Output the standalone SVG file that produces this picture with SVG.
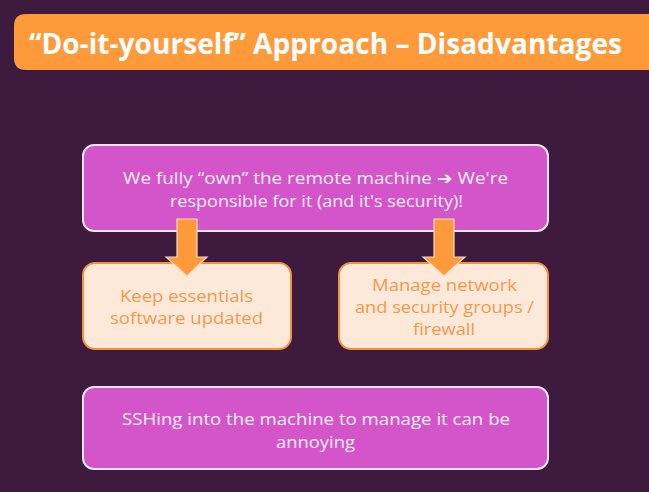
<svg xmlns="http://www.w3.org/2000/svg" width="649" height="492" viewBox="0 0 649 492">
<style>
.bg{fill:#3d1a3e}
.mag{fill:#d455c9;stroke:#f3e6f1;stroke-width:2}
.peach{fill:#fde9da;stroke:#f3923a;stroke-width:2}
.wt{font-family:"Open Sans","Liberation Sans",sans-serif;font-size:17px;fill:#fbeefa;text-anchor:middle}
.ot{font-family:"Open Sans","Liberation Sans",sans-serif;font-size:16.5px;fill:#f3994d;text-anchor:middle}
.arr{fill:#ff9a3b;stroke:#f8dcc4;stroke-width:1.2}
.title{font-family:"Open Sans","Liberation Sans",sans-serif;font-weight:bold;font-size:28px;fill:#ffffff}
</style>
<rect class="bg" x="0" y="0" width="649" height="492"/>
<g id="title">
<path d="M26 14 H660 V70 H26 Q14 70 14 58 V26 Q14 14 26 14 Z" fill="#ff9a3b"/>
<text class="title" x="29" y="54" textLength="593" lengthAdjust="spacingAndGlyphs">“Do-it-yourself” Approach – Disadvantages</text>
</g>
<g id="node-top">
<rect class="mag" x="83" y="145" width="465" height="86" rx="11"/>
<text class="wt" x="315.5" y="184" textLength="385" lengthAdjust="spacingAndGlyphs">We fully “own” the remote machine <tspan font-family="DejaVu Sans,sans-serif">➔</tspan> We're</text>
<text class="wt" x="316.5" y="207" textLength="293" lengthAdjust="spacingAndGlyphs">responsible for it (and it's security)!</text>
</g>
<g id="node-keep">
<rect class="peach" x="83" y="263" width="208" height="86" rx="12"/>
<text class="ot" x="186.5" y="302" textLength="133" lengthAdjust="spacingAndGlyphs">Keep essentials</text>
<text class="ot" x="186.5" y="324" textLength="153" lengthAdjust="spacingAndGlyphs">software updated</text>
</g>
<g id="node-network">
<rect class="peach" x="339" y="263" width="209" height="86" rx="12"/>
<text class="ot" x="444.5" y="291" textLength="145" lengthAdjust="spacingAndGlyphs">Manage network</text>
<text class="ot" x="444.5" y="313" textLength="179" lengthAdjust="spacingAndGlyphs">and security groups /</text>
<text class="ot" x="444" y="335" textLength="62" lengthAdjust="spacingAndGlyphs">firewall</text>
</g>
<g id="node-ssh">
<rect class="mag" x="83" y="387" width="465" height="82" rx="11"/>
<text class="wt" x="316" y="425" textLength="388" lengthAdjust="spacingAndGlyphs">SSHing into the machine to manage it can be</text>
<text class="wt" x="315.5" y="448" textLength="79" lengthAdjust="spacingAndGlyphs">annoying</text>
</g>
<g id="connectors">
<polygon class="arr" points="177,219 197,219 197,257 207,257 187,276 166,257 177,257"/>
<polygon class="arr" points="434,219 454,219 454,257 465,257 444,276 423,257 434,257"/>
</g>
</svg>
